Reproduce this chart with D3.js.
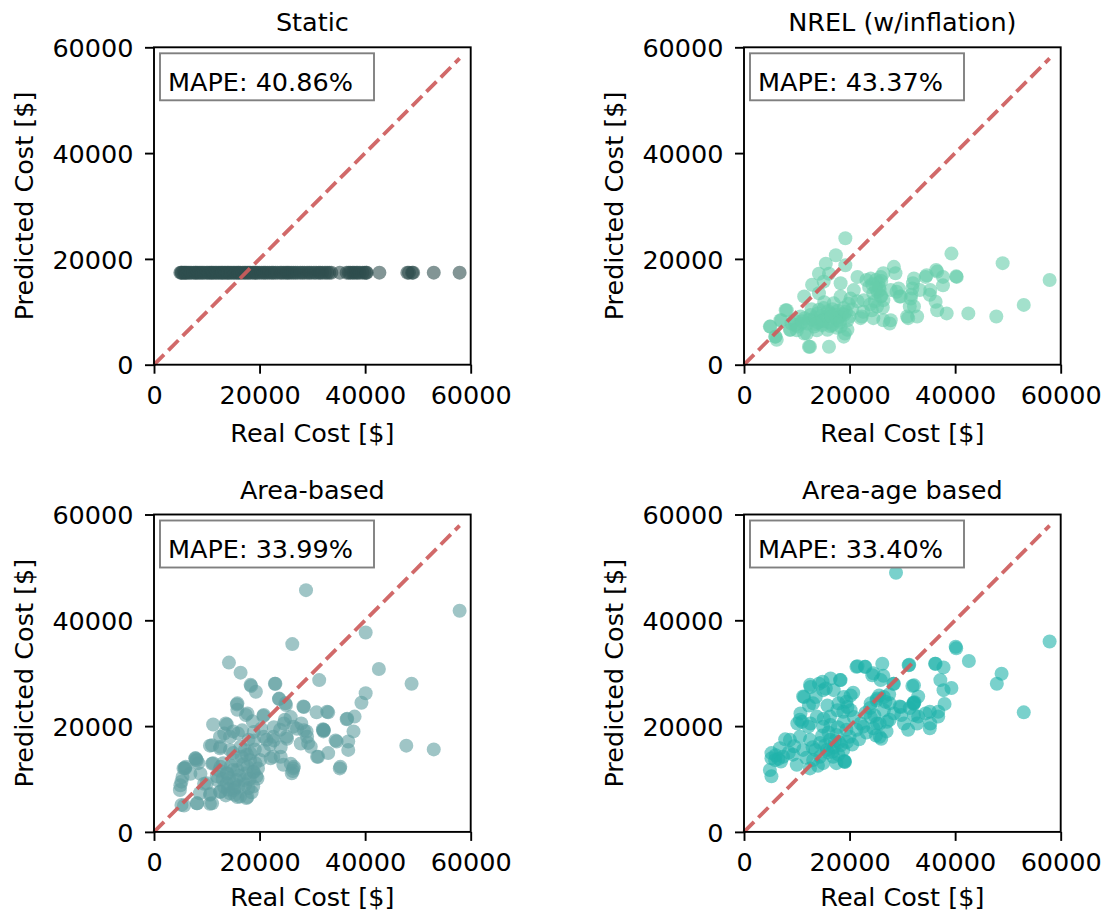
<!DOCTYPE html>
<html>
<head>
<meta charset="utf-8">
<script src="https://cdn.jsdelivr.net/npm/d3@7"></script>
<style>
  body { margin: 0; background: #fff; }
  text { font-family: "DejaVu Sans", sans-serif; fill: #000; }
</style>
</head>
<body>
<div id="chart"></div>
<script>
// values in thousands of dollars, [real, predicted]
const staticReal = [5.0, 5.2, 5.3, 5.6, 5.8, 6.0, 6.2, 6.5, 6.8, 7.1, 7.5, 7.8, 8.0, 8.3, 8.6, 8.9, 9.2, 9.5,
  9.9, 10.2, 10.5, 10.8, 11.0, 11.3, 11.6, 11.9, 12.2, 12.5, 12.8, 13.0, 13.3, 13.6, 13.9, 14.1, 14.4, 14.7,
  15.0, 15.3, 15.6, 15.9, 16.1, 16.4, 16.8, 17.1, 17.4, 17.7, 18.0, 18.3, 18.7, 19.0, 19.3, 19.6, 20.0, 20.4,
  20.8, 21.1, 21.5, 21.9, 22.3, 22.6, 23.0, 23.4, 23.9, 24.2, 24.6, 25.0, 25.3, 25.6, 26.0, 26.4, 26.8, 27.2,
  27.7, 28.1, 28.5, 29.0, 29.4, 29.8, 30.3, 30.7, 31.2, 31.5, 31.9, 32.4, 32.8, 33.2, 33.6, 35.2, 36.5, 36.9,
  37.2, 37.6, 37.9, 38.3, 38.6, 39.0, 39.5, 39.9, 40.2, 40.3, 42.7, 48.0, 48.3, 48.9, 49.1, 53.0, 57.9];
const staticPred = 17.4;

const nrelPts = [
  [19.2, 23.9], [17.4, 20.7], [15.5, 19.1], [19.2, 18.8], [14.2, 17.2], [16.1, 17.2], [12.9, 15.1], [15.1, 15.7],
  [11.4, 12.9], [14.2, 13.5], [18.3, 15.4], [21.5, 16.6], [23.2, 16.0], [24.0, 16.3], [25.9, 16.6], [28.4, 18.5],
  [28.7, 17.3], [26.4, 17.3], [23.7, 14.7], [25.6, 14.7], [25.9, 12.9], [25.2, 11.0], [26.4, 12.2], [25.7, 14.1],
  [24.5, 13.5], [27.8, 14.1], [29.3, 14.4], [29.7, 12.9], [28.9, 13.8], [32.2, 16.3], [31.9, 14.4], [32.0, 15.4],
  [33.3, 14.1], [34.4, 16.6], [34.6, 16.9], [36.6, 17.6], [36.4, 17.9], [35.3, 14.1], [36.3, 11.9], [36.6, 10.3],
  [37.7, 16.6], [37.7, 15.0], [39.3, 21.0], [40.3, 16.6], [40.2, 16.7], [38.4, 9.7], [35.2, 13.2], [31.6, 12.5],
  [30.9, 9.1], [32.8, 9.1], [31.1, 8.8], [32.2, 11.0], [31.4, 11.0], [27.8, 8.4], [27.6, 7.8], [26.4, 8.4],
  [24.5, 8.8], [22.1, 8.8], [22.3, 9.1], [22.6, 10.0], [24.2, 10.3], [22.7, 12.2], [20.2, 12.5], [20.8, 14.1],
  [18.3, 12.9], [31.7, 13.2], [29.5, 12.9], [42.5, 9.7], [47.8, 9.1], [49.0, 19.2], [53.0, 11.3], [57.9, 16.0],
  [7.9, 10.3], [8.1, 10.3], [6.9, 8.4], [7.1, 8.4], [5.0, 7.2], [4.9, 7.2], [6.0, 5.3], [5.9, 5.3], [6.2, 4.7],
  [8.7, 6.6], [9.7, 7.5], [9.5, 8.4], [10.7, 9.1], [11.9, 5.9], [12.6, 9.4], [14.5, 8.4], [16.4, 9.7], [17.7, 8.4],
  [13.3, 7.2], [15.8, 6.6], [18.9, 5.3], [19.1, 5.9], [12.3, 3.4], [12.5, 3.4], [16.1, 3.4], [11.4, 5.9], [8.8, 6.6],
  [17.0, 11.6], [18.9, 10.7], [15.1, 10.7], [10.1, 7.2], [12.0, 7.8], [13.9, 9.7], [16.7, 7.5], [18.3, 7.2],
  [19.6, 8.4], [19.6, 6.6], [14.0, 8.0], [15.5, 9.0], [17.0, 9.5], [13.0, 8.5], [16.0, 8.0], [18.0, 9.0],
  [14.8, 7.5], [15.2, 11.8], [16.8, 10.5], [19.0, 9.5], [17.5, 7.0], [20.5, 10.5], [21.5, 12.0], [19.8, 11.5],
  [10.8, 7.8], [11.5, 8.8], [9.0, 7.8], [10.0, 6.5], [13.8, 6.5], [12.8, 10.5], [25.5, 15.5], [25.0, 16.0],
  [26.0, 15.8], [24.8, 12.0], [26.3, 10.8], [23.9, 11.4], [14.6, 9.2], [15.9, 10.1], [17.3, 8.8], [18.6, 9.6],
  [13.4, 8.9], [16.3, 7.3], [12.2, 8.4], [14.2, 10.4], [17.8, 10.2], [15.0, 8.3], [16.6, 9.1], [18.2, 8.1],
  [13.6, 7.7], [11.0, 8.2], [19.3, 10.0], [20.0, 9.1], [25.3, 13.8], [26.0, 13.0], [25.0, 14.4], [24.3, 15.2]
];

const areaPts = [
  [28.8, 45.7], [57.9, 41.8], [40.1, 37.7], [26.2, 35.5], [14.2, 32.0], [16.4, 30.1], [42.6, 30.8], [31.3, 28.7],
  [22.9, 28.0], [48.8, 28.0], [18.4, 27.6], [19.3, 26.5], [40.1, 26.2], [39.3, 24.4], [23.7, 25.1], [25.0, 24.0],
  [15.7, 24.1], [15.8, 23.1], [28.3, 23.7], [30.8, 22.6], [33.0, 22.6], [36.5, 21.3], [38.0, 21.8], [37.8, 19.0],
  [20.7, 21.9], [17.4, 22.1], [18.7, 20.9], [11.2, 20.3], [13.8, 20.3], [15.0, 19.0], [32.1, 19.3], [32.1, 19.0],
  [24.8, 21.2], [26.4, 19.9], [27.9, 20.5], [28.9, 19.0], [23.9, 19.3], [22.6, 18.0], [21.3, 17.4], [25.1, 18.0],
  [10.6, 16.3], [12.5, 15.8], [14.4, 15.5], [29.2, 16.8], [31.1, 14.2], [33.0, 14.9], [34.6, 17.1], [36.8, 15.5],
  [36.8, 17.1], [47.8, 16.3], [53.0, 15.6], [35.2, 12.0], [26.4, 12.0], [26.1, 11.1], [24.5, 12.7], [22.6, 14.2],
  [20.1, 13.6], [5.9, 12.0], [5.6, 12.0], [7.8, 13.9], [8.4, 13.0], [8.1, 13.5], [5.2, 9.5], [4.9, 7.9], [5.2, 5.1],
  [8.1, 5.4], [10.6, 5.3], [10.6, 7.0], [8.7, 7.3], [10.0, 9.2], [12.5, 7.6], [14.4, 7.3], [16.3, 6.7], [17.5, 6.4],
  [15.3, 7.0], [13.8, 9.2], [15.6, 9.8], [17.5, 11.1], [18.8, 11.4], [19.4, 10.5], [19.7, 12.0], [15.0, 11.7],
  [13.8, 11.1], [11.9, 10.5], [11.2, 13.0], [16.6, 14.2], [18.2, 13.6], [18.8, 8.6], [17.9, 8.3], [15.3, 8.3],
  [13.1, 13.0], [15.0, 14.9], [17.2, 15.5], [19.1, 15.6], [17.9, 17.4], [14.4, 18.0], [15.9, 18.6], [12.5, 18.0],
  [18.3, 27.8], [23.0, 28.0], [15.8, 24.3], [17.7, 22.4], [20.8, 22.1], [23.7, 25.2], [24.9, 24.3], [28.4, 23.6],
  [32.8, 22.7], [36.6, 21.4], [13.6, 20.5], [16.7, 19.2], [13.3, 18.6], [18.9, 18.9], [18.9, 17.3], [20.8, 18.0],
  [22.7, 19.8], [24.6, 20.5], [25.9, 21.7], [27.1, 19.5], [28.4, 19.2], [29.0, 18.0], [25.2, 17.6], [22.7, 17.3],
  [32.2, 19.2], [34.4, 17.3], [11.0, 16.4], [12.6, 16.1], [16.4, 16.1], [18.3, 14.8], [20.8, 15.4], [22.1, 13.9],
  [24.0, 14.2], [25.9, 12.9], [26.5, 12.3], [27.8, 16.7], [29.7, 16.1], [30.9, 14.2], [35.3, 12.3], [6.0, 12.3],
  [7.9, 13.9], [5.4, 10.4], [5.0, 8.8], [6.9, 11.0], [8.8, 11.0], [11.0, 12.9], [12.6, 12.3], [13.9, 11.0],
  [15.8, 11.7], [17.7, 12.3], [18.9, 11.3], [19.6, 10.1], [17.0, 9.8], [15.1, 9.1], [13.3, 8.5], [12.0, 9.8],
  [9.5, 9.1], [10.7, 7.2], [13.6, 6.9], [15.8, 6.6], [17.7, 6.6], [8.2, 5.4], [5.7, 5.0], [11.0, 5.4], [15.1, 7.9],
  [12.6, 7.6], [14.2, 10.2], [16.2, 10.6], [17.3, 9.0], [18.1, 10.0], [16.9, 12.8], [14.6, 12.5], [13.0, 10.0],
  [15.6, 13.5], [17.6, 14.6], [19.2, 13.0], [12.4, 11.6], [16.0, 8.6], [18.5, 7.5], [14.0, 8.0], [32.1, 19.2],
  [32.0, 19.4], [5.8, 12.1], [8.0, 13.7], [26.3, 11.5], [24.0, 16.0], [22.0, 16.5], [20.3, 19.5]
];

const areaAgePts = [
  [28.8, 49.0], [57.9, 36.0], [40.1, 35.0], [40.2, 34.7], [42.6, 32.3], [48.8, 29.9], [47.9, 28.0], [53.0, 22.6],
  [31.3, 31.6], [26.2, 31.8], [22.9, 31.2], [21.3, 31.2], [36.2, 31.8], [37.8, 31.1], [26.4, 29.5], [24.5, 30.0],
  [28.3, 28.0], [31.9, 27.6], [33.0, 25.6], [37.8, 26.8], [39.3, 27.2], [20.7, 26.3], [18.2, 28.7], [16.4, 29.0],
  [14.9, 28.4], [12.5, 27.8], [15.0, 26.8], [11.2, 25.6], [13.1, 24.3], [25.1, 24.9], [23.9, 23.4], [27.6, 24.3],
  [29.5, 23.7], [31.4, 23.4], [32.1, 24.4], [38.0, 24.2], [36.8, 22.7], [36.8, 21.8], [35.2, 22.7], [35.2, 19.6],
  [33.0, 21.8], [31.1, 19.3], [29.8, 22.1], [27.6, 21.2], [25.7, 20.5], [24.5, 19.6], [25.7, 18.0], [22.6, 19.9],
  [21.3, 19.3], [10.6, 21.2], [12.2, 19.9], [13.8, 21.8], [15.0, 19.9], [16.3, 21.8], [17.9, 24.3], [19.4, 24.6],
  [18.8, 22.7], [19.4, 19.3], [17.5, 18.3], [10.6, 18.0], [12.5, 17.4], [14.4, 16.8], [16.3, 17.4], [15.7, 15.5],
  [14.4, 14.2], [16.9, 14.2], [18.8, 15.5], [19.1, 13.3], [19.0, 13.4], [17.5, 13.0], [7.8, 17.5], [8.7, 17.4],
  [6.8, 15.8], [5.2, 14.9], [5.2, 13.9], [5.9, 13.6], [7.4, 14.2], [9.3, 14.6], [10.0, 12.7], [12.5, 12.0],
  [4.9, 11.7], [5.2, 10.5], [11.2, 15.5], [13.1, 13.6], [15.0, 13.0], [21.5, 31.3], [23.0, 31.2], [31.2, 31.5],
  [36.3, 31.8], [24.3, 29.6], [25.9, 28.7], [28.4, 28.0], [32.2, 27.7], [37.2, 28.7], [18.3, 28.7], [14.2, 28.0],
  [12.6, 27.4], [11.4, 25.5], [15.5, 27.1], [17.0, 26.8], [20.2, 25.8], [18.9, 25.5], [13.6, 25.5], [12.3, 23.9],
  [15.8, 23.9], [10.7, 22.4], [11.0, 20.8], [15.1, 21.4], [17.7, 23.0], [19.6, 23.6], [20.8, 21.7], [24.0, 24.3],
  [25.2, 25.2], [26.5, 23.0], [28.4, 22.4], [29.7, 23.6], [32.2, 24.3], [32.2, 22.1], [34.4, 22.4], [24.0, 21.7],
  [25.2, 20.5], [27.1, 20.8], [10.1, 20.5], [12.6, 20.5], [16.4, 20.2], [18.9, 20.8], [22.1, 20.5], [30.3, 20.5],
  [32.8, 20.5], [35.3, 20.5], [17.0, 16.0], [18.0, 17.0], [16.0, 15.0], [20.0, 18.0], [13.5, 15.5], [8.5, 15.0],
  [6.5, 13.8], [9.5, 16.2], [11.8, 14.0], [14.0, 12.5], [20.5, 16.5], [21.8, 17.5], [23.2, 18.8], [25.0, 18.2],
  [26.0, 17.6], [17.8, 19.8], [16.0, 18.8], [20.2, 23.0], [27.5, 26.0], [26.5, 25.5], [24.7, 22.0], [15.4, 16.4],
  [16.8, 15.2], [17.9, 14.6], [18.4, 16.4], [13.0, 16.0], [14.8, 18.2], [17.2, 17.2], [19.5, 17.0], [6.0, 14.5],
  [7.0, 13.3], [19.1, 13.2], [32.1, 24.2], [32.3, 24.5], [25.6, 25.8], [26.8, 24.6], [23.0, 22.5], [27.0, 19.0]
];

const titles = ["Static", "NREL (w/inflation)", "Area-based", "Area-age based"];
const mapes = ["40.86%", "43.37%", "33.99%", "33.40%"];
const colors = ["#2f4f4f", "#66cdaa", "#5f9ea0", "#20b2aa"];
const tickValues = [0, 20000, 40000, 60000];

const K = 1000;
const panels = [
  { pts: staticReal.map(v => [v, staticPred]), left: 154, top: 47.3, xlab: 77 },
  { pts: nrelPts, left: 744, top: 47.3, xlab: 77 },
  { pts: areaPts, left: 154, top: 514.5, xlab: 74.5 },
  { pts: areaAgePts, left: 744, top: 514.5, xlab: 74.5 }
];

const width = 1107, height = 913;
const pw = 316.7, ph = 317.4;
const fontSize = 25.5;

const svg = d3.select('#chart').append('svg')
  .attr('width', width)
  .attr('height', height)
  .style('background', '#fff');

const x = d3.scaleLinear().domain([0, 60000]).range([0, pw]);
const y = d3.scaleLinear().domain([0, 60000]).range([ph, 0]);

panels.forEach((p, i) => {
  const g = svg.append('g').attr('transform', `translate(${p.left},${p.top})`);

  g.append('g')
    .selectAll('circle')
    .data(p.pts)
    .join('circle')
      .attr('cx', d => x(d[0] * K))
      .attr('cy', d => y(d[1] * K))
      .attr('r', 7)
      .attr('fill', colors[i])
      .attr('fill-opacity', 0.6);

  // 1:1 reference line up to the largest real cost
  const maxReal = d3.max(p.pts, d => d[0]) * K;
  g.append('path')
    .datum([[0, 0], [maxReal, maxReal]])
    .attr('d', d3.line().x(d => x(d[0])).y(d => y(d[1])))
    .attr('stroke', '#cd5c5c')
    .attr('stroke-opacity', 0.92)
    .attr('stroke-width', 3.8)
    .attr('stroke-dasharray', '14.2,6.1')
    .attr('fill', 'none');

  // mape box
  g.append('rect')
    .attr('x', 6).attr('y', 6)
    .attr('width', 214).attr('height', 47)
    .attr('fill', '#fff')
    .attr('stroke', '#808080')
    .attr('stroke-width', 1.9);
  g.append('text')
    .attr('x', 14).attr('y', 43.5)
    .attr('font-size', fontSize)
    .text('MAPE: ' + mapes[i]);

  const xAxis = g.append('g')
    .attr('transform', `translate(0,${ph})`)
    .call(d3.axisBottom(x).tickValues(tickValues).tickSize(9).tickPadding(12).tickFormat(d3.format('d')));
  const yAxis = g.append('g')
    .call(d3.axisLeft(y).tickValues(tickValues).tickSize(9).tickPadding(11.5).tickFormat(d3.format('d')));
  [xAxis, yAxis].forEach(a => {
    a.select('.domain').remove();
    a.selectAll('line').attr('stroke', '#000').attr('stroke-width', 1.9);
    a.selectAll('text')
      .attr('font-size', fontSize)
      .attr('font-family', '"DejaVu Sans", sans-serif')
      .attr('fill', '#000');
  });
  yAxis.selectAll('text').attr('dy', '0.36em');

  // spines
  g.append('rect')
    .attr('width', pw).attr('height', ph)
    .attr('fill', 'none')
    .attr('stroke', '#000')
    .attr('stroke-width', 1.9);

  g.append('text')
    .attr('x', pw / 2).attr('y', -16)
    .attr('text-anchor', 'middle')
    .attr('font-size', fontSize)
    .text(titles[i]);

  g.append('text')
    .attr('x', pw / 2).attr('y', ph + p.xlab)
    .attr('text-anchor', 'middle')
    .attr('font-size', fontSize)
    .text('Real Cost [$]');

  g.append('text')
    .attr('transform', `translate(${-121},${ph / 2}) rotate(-90)`)
    .attr('text-anchor', 'middle')
    .attr('font-size', fontSize)
    .text('Predicted Cost [$]');
});
</script>
</body>
</html>
